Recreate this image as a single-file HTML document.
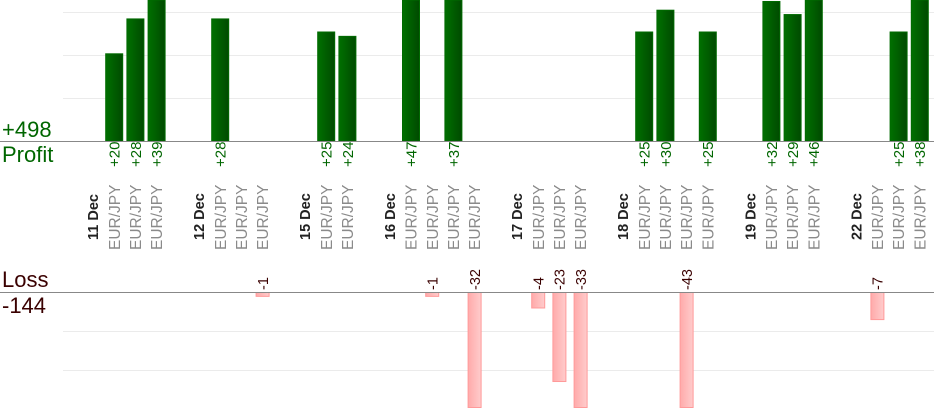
<!DOCTYPE html>
<html><head><meta charset="utf-8"><style>
html,body{margin:0;padding:0;background:#fff;}
svg{display:block;font-family:"Liberation Sans",sans-serif;}
</style></head><body>
<svg width="934" height="420" xmlns="http://www.w3.org/2000/svg">
<defs>
<linearGradient id="g" x1="0" x2="1" y1="0" y2="0"><stop offset="0" stop-color="#007000"/><stop offset="1" stop-color="#004a00"/></linearGradient>
<linearGradient id="r" x1="0" x2="1" y1="0" y2="0"><stop offset="0" stop-color="#ffaaaa"/><stop offset="1" stop-color="#ffcccc"/></linearGradient>
</defs>
<g stroke="#ebebeb" stroke-width="1">
<line x1="63" y1="12.5" x2="934" y2="12.5"/><line x1="63" y1="55.5" x2="934" y2="55.5"/><line x1="63" y1="98.5" x2="934" y2="98.5"/>
<line x1="63" y1="331.5" x2="934" y2="331.5"/><line x1="63" y1="370.5" x2="934" y2="370.5"/>
</g>
<g id="bars"></g>
<line x1="0" y1="141.5" x2="934" y2="141.5" stroke="#888"/>
<line x1="0" y1="292.5" x2="934" y2="292.5" stroke="#888"/>
<text x="2" y="137" font-size="22" fill="#006600">+498</text>
<text x="2" y="162" font-size="22" fill="#006600">Profit</text>
<text x="2" y="287" font-size="22" fill="#3a0000">Loss</text>
<text x="2" y="313" font-size="22" fill="#3a0000">-144</text>
<g id="lbl"></g>
</svg>
<script>
var slots=[["d","11 Dec"],["e",20],["e",28],["e",39],null,["d","12 Dec"],["e",28],["e",0],["e",-1],null,["d","15 Dec"],["e",25],["e",24],null,["d","16 Dec"],["e",47],["e",-1],["e",37],["e",-32],null,["d","17 Dec"],["e",-4],["e",-23],["e",-33],null,["d","18 Dec"],["e",25],["e",30],["e",-43],["e",25],null,["d","19 Dec"],["e",32],["e",29],["e",46],null,["d","22 Dec"],["e",-7],["e",25],["e",38]];
var ns="http://www.w3.org/2000/svg",B=document.getElementById("bars"),L=document.getElementById("lbl");
function el(p,t,a,txt){var e=document.createElementNS(ns,t);for(var k in a)e.setAttribute(k,a[k]);if(txt!=null)e.textContent=txt;p.appendChild(e);return e;}
function vt(cx,yb,txt,size,fill,bold){el(L,"text",{transform:"translate("+cx+","+yb+") rotate(-90)",dy:"0.36em","font-size":size,fill:fill,"font-weight":bold?"bold":"normal"},txt);}
slots.forEach(function(s,i){if(!s)return;var cx=93+i*21.2;
 if(s[0]=="d"){vt(cx,240,s[1],14.5,"#222",1);return;}
 vt(cx,250,"EUR/JPY",15.5,"#8a8a8a");
 var v=s[1];
 if(v>0){var top=Math.max(0,141-v*4.36);el(B,"rect",{x:cx-9+0.5,y:top,width:17,height:141-top,fill:"url(#g)",stroke:"#006a00","stroke-width":1});vt(cx,167,"+"+v,15,"#006600");}
 else if(v<0){var h=Math.min(407-292,-v*3.87);el(B,"rect",{x:cx-7+0.5,y:292.5,width:13,height:h,fill:"url(#r)",stroke:"#ff9a9a","stroke-width":1});vt(cx,290,""+v,14.5,"#3a0000");}
});
</script>
</body></html>
